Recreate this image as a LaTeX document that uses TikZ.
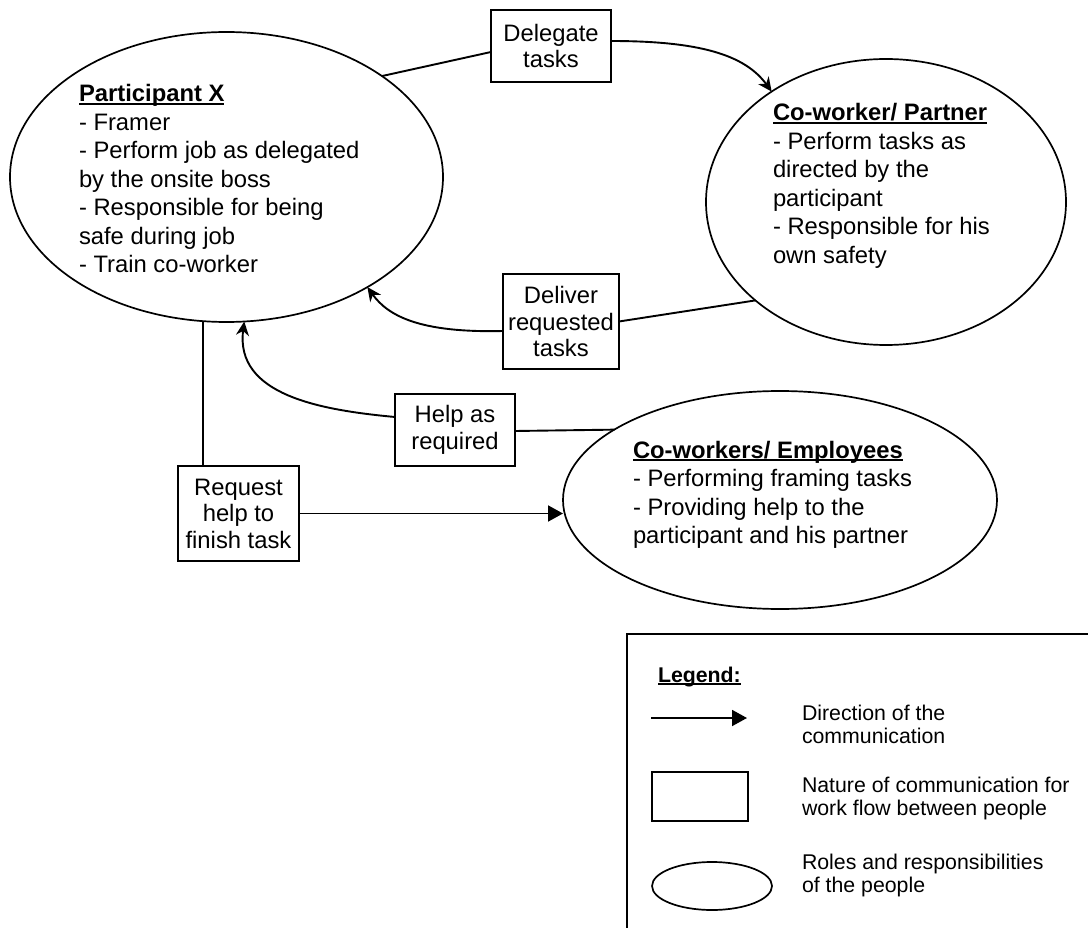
\documentclass[tikz,border=0pt]{standalone}
\usepackage{fontspec}
\setmainfont{Liberation Sans}
\usetikzlibrary{arrows.meta,calc,shapes.geometric}

% bold heading with a rule just under the baseline
\newcommand\headul[1]{\leavevmode\setbox0=\hbox{\bfseries #1}\rlap{\rule[-3pt]{\wd0}{1.6pt}}\box0}

\begin{document}
\begin{tikzpicture}[x=1pt,y=-1pt,
  role/.style={ellipse,draw,line width=1.7pt,inner sep=0pt,outer sep=0pt},
  msg/.style={rectangle,draw,line width=1.2pt,inner sep=0pt,outer sep=0pt,
    align=center,font=\fontsize{23.8}{26.5}\selectfont},
  roletext/.style={anchor=base west,inner sep=0pt,outer sep=0pt},
  legtext/.style={anchor=base west,inner sep=0pt,outer sep=0pt},
  link/.style={line width=1.9pt},
  curvetip/.style={link,-{Stealth[length=14pt,width=13pt,inset=4.5pt]}},
  flowtip/.style={link,-{Triangle[length=15pt,width=16pt]}}
]
\clip (0,0) rectangle (1088,928);
\fill[white] (0,0) rectangle (1088,928);

% people
\node[role,minimum width=433pt,minimum height=290pt] (px) at (226.5,177) {};
\node[role,minimum width=360pt,minimum height=286pt] (pp) at (886,202) {};
\node[role,minimum width=434pt,minimum height=218pt] (emp) at (780,500) {};

\node[roletext] (pxt) at (79,102) {\parbox[t]{350pt}{\raggedright\fontsize{23.8}{28.5}\selectfont
  \headul{Participant X}\\
  - Framer\\
  - Perform job as delegated\\
  by the onsite boss\\
  - Responsible for being\\
  safe during job\\
  - Train co-worker}};
\node[roletext] (ppt) at (773,121) {\parbox[t]{280pt}{\raggedright\fontsize{23.8}{28.5}\selectfont
  \headul{Co-worker/ Partner}\\
  - Perform tasks as\\
  directed by the\\
  participant\\
  - Responsible for his\\
  own safety}};
\node[roletext] (empt) at (633,458) {\parbox[t]{340pt}{\raggedright\fontsize{23.8}{28.5}\selectfont
  \headul{Co-workers/ Employees}\\
  - Performing framing tasks\\
  - Providing help to the\\
  participant and his partner}};

% communication boxes
\node[msg,minimum width=120pt,minimum height=72pt] (del) at (551,46) {Delegate\\tasks};
\node[msg,minimum width=116pt,minimum height=95pt] (dlv) at (561,321.5) {Deliver\\requested\\tasks};
\node[msg,minimum width=120pt,minimum height=72pt] (help) at (455,430) {Help as\\required};
\node[msg,minimum width=121pt,minimum height=95pt] (req) at (238.5,513.5) {Request\\help to\\finish task};

% connectors
\draw[link] (px.33.6) -- ($(del.west)+(0,6)$);
\draw[curvetip] ($(del.east)+(0,-5)$) .. controls (700,41) and (745,55) .. (pp.136);

\draw[link] (dlv.east) -- (pp.-143);
\draw[curvetip] ($(dlv.west)+(0,9.5)$) .. controls (420,333) and (388,316) .. (px.-38.3);

\draw[link] ($(help.east)+(0,1)$) -- (emp.157);
\draw[curvetip] ($(help.west)+(0,-13)$) .. controls (320,410) and (235,395) .. (px.-83.9);

\coordinate (rq) at ($(req.north)+(-35.5,0)$);
\draw[link] (rq) -- (rq |- px.south);
\draw[flowtip] (req.east) -- (req.east -| emp.west);

% legend
\node[draw,line width=2.2pt,inner sep=0pt,outer sep=0pt,anchor=north west,
  minimum width=480pt,minimum height=310pt] (legbox) at (627,634) {};
\node[legtext] (legtitle) at (658,682) {\fontsize{21.3}{24}\selectfont\headul{Legend:}};

\coordinate (la1) at (651,718);
\coordinate (la2) at (747,718);
\draw[flowtip] (la1) -- (la2);
\node[msg,minimum width=96pt,minimum height=49pt] (lrect) at (700,796.5) {};
\node[role,minimum width=120pt,minimum height=48pt] (lell) at (712,886) {};

\node[legtext] (lt1) at (802,720) {\parbox[t]{280pt}{\fontsize{21.3}{23.8}\selectfont
  Direction of the\\communication}};
\node[legtext] (lt2) at (802,792) {\parbox[t]{280pt}{\fontsize{21.3}{23.8}\selectfont
  Nature of communication for\\work flow between people}};
\node[legtext] (lt3) at (802,869) {\parbox[t]{280pt}{\fontsize{21.3}{23.8}\selectfont
  Roles and responsibilities\\of the people}};
\end{tikzpicture}
\end{document}
